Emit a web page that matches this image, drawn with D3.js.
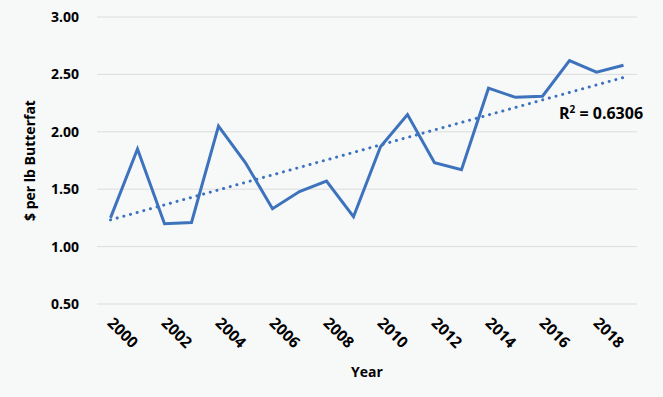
<!DOCTYPE html>
<html>
<head>
<meta charset="utf-8">
<script src="https://cdn.jsdelivr.net/npm/d3@7"></script>
<style>
  body { margin: 0; background: #f7f8f8; }
  svg { display: block; font-family: "Open Sans", sans-serif; }
</style>
</head>
<body>
<script>
// data
var years = [2000, 2001, 2002, 2003, 2004, 2005, 2006, 2007, 2008, 2009,
             2010, 2011, 2012, 2013, 2014, 2015, 2016, 2017, 2018, 2019];
var prices = [1.25, 1.85, 1.20, 1.21, 2.05, 1.73, 1.33, 1.48, 1.57, 1.26,
              1.87, 2.15, 1.73, 1.67, 2.38, 2.30, 2.31, 2.62, 2.52, 2.58];
var yTicks = [0.5, 1.0, 1.5, 2.0, 2.5, 3.0];
var xTickYears = [2000, 2002, 2004, 2006, 2008, 2010, 2012, 2014, 2016, 2018];
var rSquared = "0.6306";

var W = 663, H = 397;
var margin = {top: 17, right: 26, bottom: 93, left: 97},
    width = W - margin.left - margin.right,
    height = 304 - margin.top;

var svg = d3.select("body").append("svg")
    .attr("width", W)
    .attr("height", H);

var g = svg.append("g")
    .attr("transform", "translate(" + margin.left + "," + margin.top + ")");

var x = d3.scaleBand().domain(years).range([0, width]);
var xc = function(d) { return x(d) + x.bandwidth() / 2; };
var y = d3.scaleLinear().domain([0.5, 3.0]).range([height, 0]);

// gridlines
g.selectAll(".grid")
    .data(yTicks)
  .enter().append("line")
    .attr("x1", 0).attr("x2", width)
    .attr("y1", y).attr("y2", y)
    .attr("stroke", "#dcdcdc")
    .attr("stroke-width", 1);

// y labels
g.selectAll(".ylab")
    .data(yTicks)
  .enter().append("text")
    .attr("x", -18)
    .attr("y", function(d) { return y(d); })
    .attr("dy", "0.36em")
    .attr("text-anchor", "end")
    .style("font-size", "14px")
    .style("font-weight", "bold")
    .text(function(d) { return d.toFixed(2); });

// x labels, rotated
g.selectAll(".xlab")
    .data(xTickYears)
  .enter().append("text")
    .attr("transform", function(d) {
      return "translate(" + (xc(d) - 4) + "," + (height + 20) + ") rotate(45)";
    })
    .attr("text-anchor", "start")
    .style("font-size", "15.5px")
    .style("font-weight", "bold")
    .text(function(d) { return d; });

// linear trend (least squares on the values)
var idx = years.map(function(d, i) { return i; });
var mx = d3.mean(idx), my = d3.mean(prices);
var slope = d3.sum(idx, function(i) { return (i - mx) * (prices[i] - my); }) /
            d3.sum(idx, function(i) { return (i - mx) * (i - mx); });
var icpt = my - slope * mx;

g.append("line")
    .attr("x1", xc(years[0]))
    .attr("y1", y(icpt))
    .attr("x2", xc(years[years.length - 1]))
    .attr("y2", y(icpt + slope * (years.length - 1)))
    .attr("stroke", "#3d72bd")
    .attr("stroke-width", 3)
    .attr("stroke-linecap", "round")
    .attr("stroke-dasharray", "0.1 6.8");

// price line
var line = d3.line()
    .x(function(d, i) { return xc(years[i]); })
    .y(function(d) { return y(d); });

g.append("path")
    .datum(prices)
    .attr("d", line)
    .attr("fill", "none")
    .attr("stroke", "#3d72bd")
    .attr("stroke-width", 3)
    .attr("stroke-linejoin", "miter");

// R squared label
var r2 = g.append("text")
    .attr("x", 462)
    .attr("y", 102)
    .style("font-size", "16px")
    .style("font-weight", "bold");
r2.append("tspan").text("R");
r2.append("tspan").attr("dy", -6).style("font-size", "10px").text("2");
r2.append("tspan").attr("dy", 6).text(" = " + rSquared);

// axis titles
svg.append("text")
    .attr("x", margin.left + width / 2)
    .attr("y", 377)
    .attr("text-anchor", "middle")
    .style("font-size", "14px")
    .style("font-weight", "bold")
    .text("Year");

svg.append("text")
    .attr("transform", "translate(35," + (margin.top + height / 2) + ") rotate(-90)")
    .attr("text-anchor", "middle")
    .style("font-size", "14px")
    .style("font-weight", "bold")
    .text("$ per lb Butterfat");
</script>
</body>
</html>
